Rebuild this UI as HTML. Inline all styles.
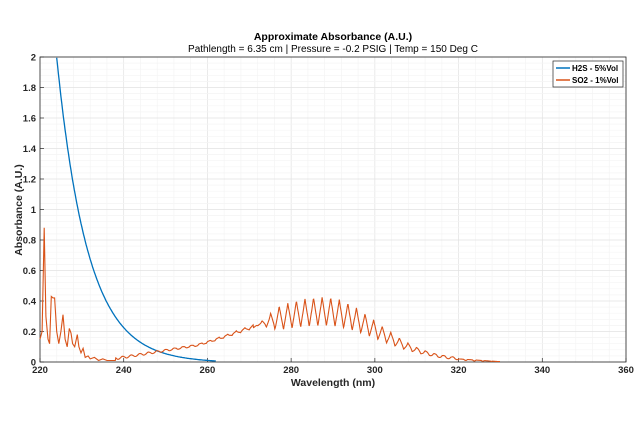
<!DOCTYPE html>
<html><head><meta charset="utf-8"><style>
body{margin:0;background:#fff;font-family:"Liberation Sans",Arial,sans-serif;}
svg text{font-family:"Liberation Sans",Arial,sans-serif;}
</style></head><body>
<svg id="s" width="644" height="420" xmlns="http://www.w3.org/2000/svg">
<rect width="644" height="420" fill="#fff"/>
<g id="grid"></g>
<rect x="40" y="57" width="586" height="305" fill="none" stroke="#262626" stroke-width="0.8"/>
<g id="ticks" font-size="9.5" font-weight="bold" fill="#262626"></g>
<path id="h2s" fill="none" stroke="#0072BD" stroke-width="1.3"/>
<path id="so2" fill="none" stroke="#D95319" stroke-width="1.1"/>
<text x="333" y="40" font-size="10.5" font-weight="bold" text-anchor="middle" fill="#000">Approximate Absorbance (A.U.)</text>
<text x="333" y="52" font-size="10" text-anchor="middle" fill="#000">Pathlength = 6.35 cm | Pressure = -0.2 PSIG | Temp = 150 Deg C</text>
<text x="333" y="386" font-size="10.5" font-weight="bold" text-anchor="middle" fill="#262626">Wavelength (nm)</text>
<text transform="translate(22,210) rotate(-90)" font-size="10.5" font-weight="bold" text-anchor="middle" fill="#262626">Absorbance (A.U.)</text>
<rect x="553" y="61" width="70" height="26" fill="#fff" stroke="#262626" stroke-width="0.7"/>
<line x1="556" y1="68" x2="570" y2="68" stroke="#0072BD" stroke-width="1.5"/>
<line x1="556" y1="80" x2="570" y2="80" stroke="#D95319" stroke-width="1.5"/>
<text x="572" y="71" font-size="8" font-weight="bold" fill="#000">H2S - 5%Vol</text>
<text x="572" y="83" font-size="8" font-weight="bold" fill="#000">SO2 - 1%Vol</text>
</svg>
<script>
var X=function(n){return 40+(n-220)*586/140;},Y=function(a){return 362-a*152.5;};
var g=document.getElementById('grid'),t=document.getElementById('ticks'),h='',tt='';
for(var n=220;n<=360;n+=4){var x=X(n);h+='<line x1="'+x+'" y1="57" x2="'+x+'" y2="362" stroke="'+(n%20==0?'#e2e2e2':'#f4f4f4')+'" stroke-width="0.7"/>';}
for(var i=0;i<=50;i++){var a=i*0.04,y=Y(a);h+='<line x1="40" y1="'+y+'" x2="626" y2="'+y+'" stroke="'+(i%5==0?'#e2e2e2':'#f4f4f4')+'" stroke-width="0.7"/>';}
g.innerHTML=h;
for(var n=220;n<=360;n+=20){var x=X(n);tt+='<text x="'+x+'" y="373" text-anchor="middle">'+n+'</text><line x1="'+x+'" y1="362" x2="'+x+'" y2="358" stroke="#262626" stroke-width="0.7"/>';}
for(var i=0;i<=10;i++){var a=i*0.2,y=Y(a);var l=(i==0?'0':(i==5?'1':(i==10?'2':a.toFixed(1))));tt+='<text x="36" y="'+(y+3.5)+'" text-anchor="end">'+l+'</text><line x1="40" y1="'+y+'" x2="44" y2="'+y+'" stroke="#262626" stroke-width="0.7"/>';}
t.innerHTML=tt;
var p='';for(var n=224;n<=262;n+=0.2){var a=2*Math.exp(-(n-224)/7.4)-0.005;p+=(p?'L':'M')+X(n).toFixed(1)+','+Y(Math.max(a,0.002)).toFixed(1);}
document.getElementById('h2s').setAttribute('d',p);
var pk=[[220,0.15],[220.5,0.2],[221,0.88],[221.4,0.3],[221.9,0.15],[222.3,0.12],[222.7,0.43],[223.1,0.42],[223.5,0.42],[224,0.2],[224.5,0.12],[225,0.2],[225.5,0.31],[226,0.15],[226.5,0.1],[227,0.22],[227.4,0.19],[227.8,0.12],[228.3,0.1],[228.9,0.18],[229.3,0.1],[229.8,0.06],[230.3,0.09],[230.8,0.03],[231.5,0.04],[232,0.02],[233,0.03],[234,0.01],[235,0.02],[236,0.01],[238,0.01]];
var q='';pk.forEach(function(v){q+=(q?'L':'M')+X(v[0]).toFixed(1)+','+Y(v[1]).toFixed(1);});
function sh(n){var ph=((n-271)/2.05)%1;if(ph<0)ph+=1;return ph<0.5?1-4*ph:-1+4*(ph-0.5);}
for(var n=238.1;n<=330;n+=0.1){
 var s=n<288?20:12.5;var base=0.32*Math.exp(-Math.pow(n-288,2)/(2*s*s));
 if(n<262)base=Math.max(base,0.012+(n-238)*0.0045);
 var amp=n>271?0.32*base*Math.min(1,(n-271)/6):0.1*base;
 var a=base+amp*sh(n)+0.01+0.008*Math.sin(n*3.1);
 if(n>320)a=Math.min(a,Math.max(0.002,0.02-(n-320)*0.0018));
 q+='L'+X(n).toFixed(1)+','+Y(Math.max(a,0.003)).toFixed(1);}
document.getElementById('so2').setAttribute('d',q);
</script>
</body></html>
